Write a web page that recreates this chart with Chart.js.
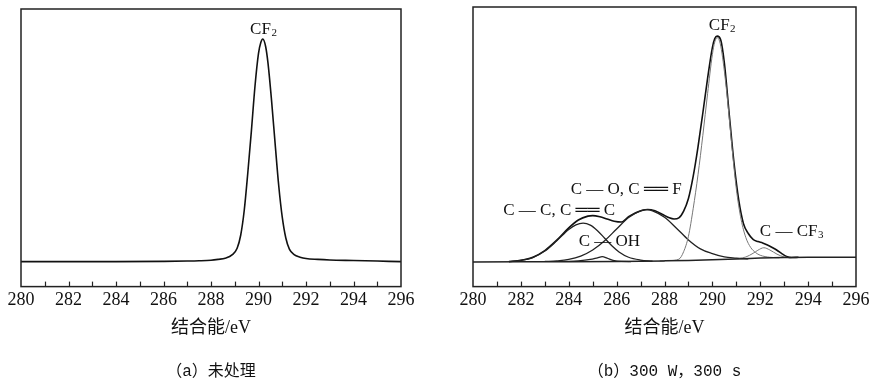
<!DOCTYPE html>
<html>
<head>
<meta charset="utf-8">
<script src="https://cdn.jsdelivr.net/npm/chart.js@4.4.1/dist/chart.umd.min.js"></script>
<style>
  html, body { margin: 0; padding: 0; background: #fff; }
  body { width: 886px; height: 387px; position: relative; overflow: hidden; }
  .panel { position: absolute; top: 0; height: 387px; }
  #wrapA { left: 0; width: 430px; }
  #wrapB { left: 440px; width: 446px; }
</style>
</head>
<body>
<div class="panel" id="wrapA"><canvas id="chartA"></canvas></div>
<div class="panel" id="wrapB"><canvas id="chartB"></canvas></div>
<script>
// etiquetas del eje x (eV)
const xTickLabels = [280, 282, 284, 286, 288, 290, 292, 294, 296];

// (a) sin tratar
const aEnergy = [280, 282, 284, 286, 287, 287.5, 288, 288.3, 288.6, 288.9, 289.1, 289.25, 289.4, 289.55, 289.7, 289.85, 290.0, 290.1, 290.18, 290.3, 290.4, 290.55, 290.7, 290.85, 291.0, 291.15, 291.3, 291.5, 291.75, 292.0, 292.5, 293, 294, 295, 296];
const aIntensity = [9.0, 9.0, 9.0, 9.1, 9.2, 9.3, 9.5, 9.8, 10.2, 11.5, 13.8, 18.5, 27.5, 41.0, 56.0, 72.0, 84.0, 88.0, 89.2, 86.5, 80.5, 67.0, 51.5, 36.5, 25.0, 17.5, 13.5, 11.5, 10.6, 10.1, 9.8, 9.6, 9.4, 9.2, 9.0];

// (b) 300 W, 300 s : fondo, envolvente y componentes
const bgEnergy = [280, 282, 284, 286, 288, 289, 290, 291, 292, 293, 294, 296];
const bgIntensity = [8.8, 8.85, 8.9, 9.0, 9.2, 9.35, 9.6, 9.9, 10.2, 10.4, 10.5, 10.5];

const envEnergy = [281.5, 282, 282.5, 283, 283.5, 284, 284.4, 284.8, 285.0, 285.3, 285.6, 285.9, 286.2, 286.5, 286.8, 287.05, 287.3, 287.6, 287.9, 288.2, 288.4, 288.6, 288.8, 289.0, 289.2, 289.4, 289.6, 289.8, 290.0, 290.1, 290.2, 290.35, 290.5, 290.7, 290.9, 291.1, 291.3, 291.5, 291.7, 291.9, 292.1, 292.3, 292.5, 292.7, 292.9, 293.1, 293.3, 293.6];
const envIntensity = [8.9, 9.4, 10.5, 12.9, 16.6, 21.0, 23.8, 25.2, 25.4, 25.0, 24.2, 23.4, 23.1, 25.0, 26.4, 27.2, 27.6, 27.1, 25.9, 24.6, 24.2, 24.6, 27.0, 31.5, 39.5, 50.0, 62.0, 74.5, 85.5, 88.7, 89.6, 88.2, 80.0, 62.0, 44.5, 31.0, 22.5, 19.0, 16.9, 16.1, 15.6, 14.9, 14.0, 13.0, 11.8, 10.8, 10.4, 10.5];

const ccEnergy = [281.5, 282, 282.5, 283, 283.5, 284, 284.3, 284.6, 284.9, 285.2, 285.5, 285.8, 286.1, 286.5, 287, 287.5];
const ccIntensity = [9.0, 9.4, 10.4, 12.7, 16.4, 20.4, 22.1, 22.7, 22.0, 20.0, 17.3, 14.6, 12.4, 10.5, 9.5, 9.1];

const cohEnergy = [283.8, 284.4, 284.9, 285.2, 285.4, 285.6, 285.85, 286.2, 286.6];
const cohIntensity = [9.0, 9.2, 9.7, 10.3, 10.7, 10.2, 9.4, 9.0, 8.95];

const coEnergy = [283, 283.5, 284, 284.5, 285, 285.5, 286, 286.5, 287, 287.25, 287.5, 288, 288.5, 289, 289.5, 290, 290.5, 291, 291.5];
const coIntensity = [9.0, 9.2, 9.7, 10.9, 13.1, 16.4, 20.6, 24.7, 27.1, 27.5, 27.1, 24.8, 20.9, 16.7, 13.5, 11.8, 10.6, 10.2, 9.9];

const cf2Energy = [287.8, 288.2, 288.6, 288.8, 289.0, 289.2, 289.4, 289.6, 289.8, 290.0, 290.1, 290.2, 290.3, 290.4, 290.6, 290.8, 291.0, 291.2, 291.4, 291.6, 291.8, 292.0, 292.4, 292.8];
const cf2Intensity = [9.2, 9.3, 9.8, 12.5, 18.0, 28.0, 40.0, 54.0, 69.0, 83.0, 87.5, 89.0, 87.8, 83.5, 69.5, 51.5, 35.0, 24.0, 17.5, 14.0, 12.2, 11.2, 10.5, 10.3];

const cf3Energy = [291.1, 291.4, 291.7, 291.9, 292.15, 292.4, 292.7, 293.0, 293.3];
const cf3Intensity = [10.0, 10.6, 11.9, 13.0, 13.9, 13.1, 11.6, 10.6, 10.3];

// rótulos de picos ("_" marca subíndice)
const aLabelText = ["CF_2"];
const aLabelEnergy = [290.2];
const aLabelIntensity = [93];

const bLabelText = ["CF_2", "C — O, C ══ F", "C — C, C ══ C", "C — OH", "C — CF_3"];
const bLabelEnergy = [290.4, 286.4, 283.6, 285.7, 293.3];
const bLabelIntensity = [93.9, 35.2, 27.7, 16.5, 20.4];

const SERIF = '"Liberation Serif", "DejaVu Serif", "Noto Sans CJK SC", serif';
const CAPTION = '"Liberation Mono", "Noto Sans CJK SC", monospace';

function puntos(xs, ys) {
  return xs.map((x, i) => ({ x: x, y: ys[i] }));
}

function serie(xs, ys, color, ancho) {
  return {
    data: puntos(xs, ys),
    borderColor: color,
    borderWidth: ancho,
    pointRadius: 0,
    fill: false,
    cubicInterpolationMode: "monotone"
  };
}

// marco del gráfico y marcas interiores cada 1 eV
const marcoPlugin = {
  id: "marco",
  afterDatasetsDraw(chart) {
    const { ctx, chartArea: a } = chart;
    const x = chart.scales.x;
    ctx.save();
    ctx.strokeStyle = "#222";
    ctx.lineWidth = 1.5;
    ctx.strokeRect(a.left, a.top, a.right - a.left, a.bottom - a.top);
    ctx.lineWidth = 1.2;
    for (let v = x.min + 1; v < x.max; v++) {
      const px = Math.round(x.getPixelForValue(v)) + 0.5;
      ctx.beginPath();
      ctx.moveTo(px, a.bottom);
      ctx.lineTo(px, a.bottom - 5);
      ctx.stroke();
    }
    ctx.restore();
  }
};

// texto de los picos con subíndice
const rotulosPlugin = {
  id: "rotulos",
  afterDatasetsDraw(chart, args, opts) {
    const { ctx } = chart;
    const x = chart.scales.x;
    const y = chart.scales.y;
    const size = opts.size || 17;
    ctx.save();
    ctx.fillStyle = "#111";
    ctx.textAlign = "left";
    ctx.textBaseline = "alphabetic";
    opts.texts.forEach((t, i) => {
      const partes = t.split("_");
      const base = partes[0];
      const sub = partes[1] || "";
      const fBase = `${size}px ${SERIF}`;
      const fSub = `${Math.round(size * 0.62)}px ${SERIF}`;
      ctx.font = fBase;
      const wBase = ctx.measureText(base).width;
      ctx.font = fSub;
      const wSub = sub ? ctx.measureText(sub).width : 0;
      const px = x.getPixelForValue(opts.xs[i]);
      const py = y.getPixelForValue(opts.ys[i]) + size * 0.35;
      const x0 = px - (wBase + wSub) / 2;
      ctx.font = fBase;
      ctx.fillText(base, x0, py);
      if (sub) {
        ctx.font = fSub;
        ctx.fillText(sub, x0 + wBase + 0.5, py + size * 0.12);
      }
    });
    ctx.restore();
  }
};

function opciones(padding, caption, labels) {
  return {
    responsive: true,
    maintainAspectRatio: false,
    animation: false,
    layout: { padding: padding },
    scales: {
      x: {
        type: "linear",
        min: 280,
        max: 296,
        afterBuildTicks: (scale) => {
          scale.ticks = xTickLabels.map((v) => ({ value: v }));
        },
        grid: { display: false, drawTicks: false },
        border: { display: false },
        ticks: {
          color: "#111",
          padding: 3,
          maxRotation: 0,
          font: { family: SERIF, size: 18 }
        },
        title: {
          display: true,
          text: "结合能/eV",
          color: "#111",
          font: { family: SERIF, size: 18 },
          padding: { top: 3, bottom: 0 }
        }
      },
      y: {
        display: false,
        min: 0,
        max: 100
      }
    },
    plugins: {
      legend: { display: false },
      tooltip: { enabled: false },
      title: {
        display: true,
        position: "bottom",
        text: caption,
        color: "#111",
        font: { family: CAPTION, size: 16, weight: "normal" },
        padding: { top: 23, bottom: 6 }
      },
      rotulos: labels
    }
  };
}

new Chart(document.getElementById("chartA"), {
  type: "line",
  data: {
    datasets: [serie(aEnergy, aIntensity, "#111", 1.6)]
  },
  options: opciones({ left: 21, right: 29, top: 9, bottom: 0 }, "（a）未处理", {
    texts: aLabelText, xs: aLabelEnergy, ys: aLabelIntensity, size: 17
  }),
  plugins: [marcoPlugin, rotulosPlugin]
});

new Chart(document.getElementById("chartB"), {
  type: "line",
  data: {
    datasets: [
      serie(bgEnergy, bgIntensity, "#222", 1.5),
      serie(cf3Energy, cf3Intensity, "#777", 1.0),
      serie(cf2Energy, cf2Intensity, "#777", 1.0),
      serie(cohEnergy, cohIntensity, "#222", 1.3),
      serie(coEnergy, coIntensity, "#222", 1.3),
      serie(ccEnergy, ccIntensity, "#222", 1.3),
      serie(envEnergy, envIntensity, "#111", 1.6)
    ]
  },
  options: opciones({ left: 33, right: 30, top: 7, bottom: 0 }, "（b）300 W，300 s", {
    texts: bLabelText, xs: bLabelEnergy, ys: bLabelIntensity, size: 17
  }),
  plugins: [marcoPlugin, rotulosPlugin]
});
</script>
</body>
</html>
